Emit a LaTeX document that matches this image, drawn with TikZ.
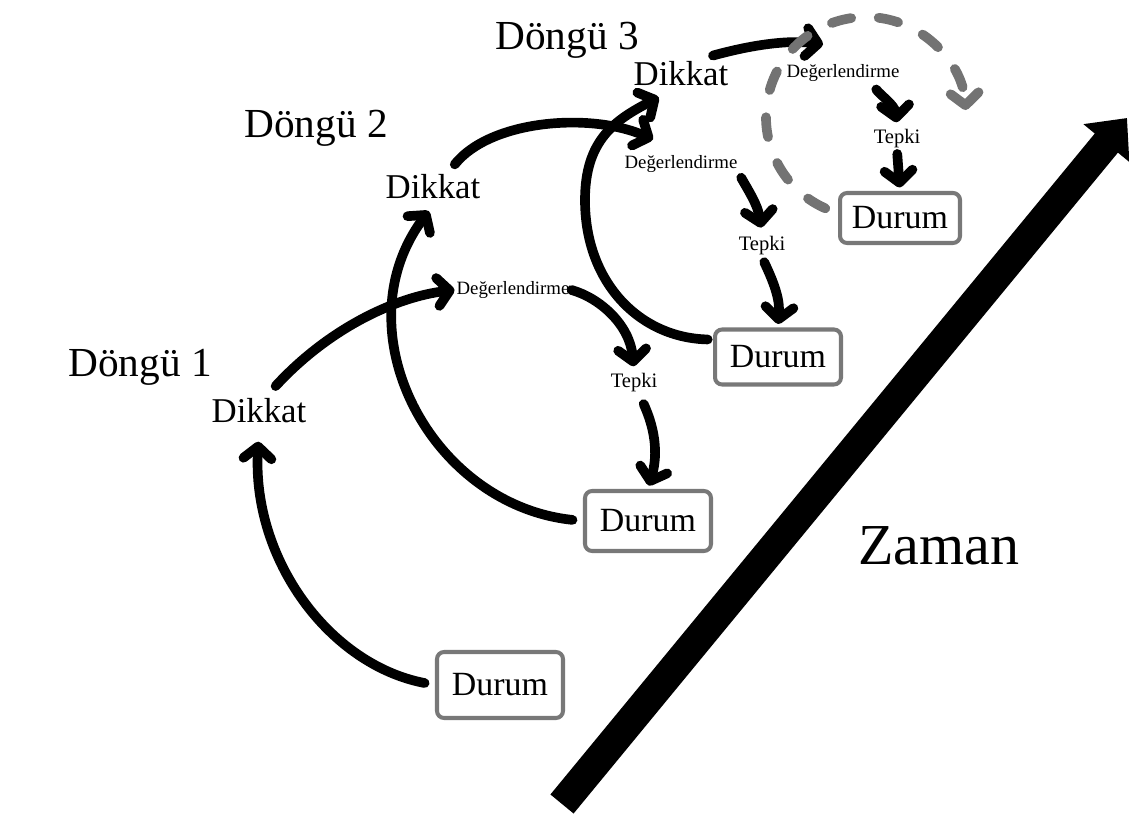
\documentclass[tikz,border=0pt]{standalone}
\usepackage{fontspec}
\setmainfont{Liberation Serif}
\usetikzlibrary{arrows.meta}
\definecolor{boxgray}{RGB}{120,120,120}
\definecolor{ringgray}{RGB}{115,115,115}

\begin{document}
\begin{tikzpicture}[x=0.02cm, y=-0.02cm,
  cyclabel/.style={font=\fontsize{23.5}{28}\selectfont},
  attn/.style={font=\fontsize{19.8}{24}\selectfont},
  appraise/.style={font=\fontsize{10.7}{13}\selectfont, inner sep=1pt},
  react/.style={font=\fontsize{11.7}{14}\selectfont, inner sep=1pt},
  durbox/.style={draw=boxgray, line width=2.3pt, rounded corners=4pt,
    font=\fontsize{19.3}{23}\selectfont, minimum width=2.52cm},
  flow/.style={line width=5.5pt, line cap=round,
    -{Straight Barb[round,length=2.4mm,width=5.6mm]}},
  ring/.style={flow, draw=ringgray, dash pattern=on 0.4cm off 0.55cm}]

\useasboundingbox (0,0) rectangle (1129,820);

% cycle 1
\path (140,367) node[cyclabel] (dongA) {Döngü 1};
\path (259,411) node[attn] (dikA) {Dikkat};
\path (513,290) node[appraise] (degA) {Değerlendirme};
\path (634,383) node[react] (tepA) {Tepki};
\path (500,685) node[durbox, minimum height=1.32cm] (durA) {Durum};

% cycle 2
\path (316,128) node[cyclabel] (dongB) {Döngü 2};
\path (433,187) node[attn] (dikB) {Dikkat};
\path (681,164) node[appraise] (degB) {Değerlendirme};
\path (762,246) node[react] (tepB) {Tepki};
\path (648,521) node[durbox, minimum height=1.2cm] (durB) {Durum};

% cycle 3
\path (567,40) node[cyclabel] (dongC) {Döngü 3};
\path (681,74) node[attn] (dikC) {Dikkat};
\path (843,73) node[appraise] (degC) {Değerlendirme};
\path (897,139) node[react] (tepC) {Tepki};
\path (778,357) node[durbox, minimum height=1.1cm] (durC) {Durum};
\path (900,218) node[durbox, minimum height=1.0cm, minimum width=2.4cm] (durD) {Durum};

% time axis
\path (939,546) node[font=\fontsize{33}{40}\selectfont] (zaman) {Zaman};
\coordinate (tbase) at (562,804);
\coordinate (ttip) at (1127,118);
\draw [line width=0.6cm, -{Triangle[length=0.65cm,width=1.15cm]}] (tbase) -- (ttip);

% cycle 1 arrows
\draw [flow, shorten <=6pt, shorten >=7pt] (durA.west) .. controls (330,665) and (252,560) .. (dikA.south);
\draw [flow, shorten <=5pt] (dikA.60) .. controls (328,329) and (395,297) .. (degA.west);
\draw [flow, shorten >=3pt] (degA.east) .. controls (600,298) and (630,325) .. (tepA.north);
\draw [flow, shorten <=6pt, shorten >=2pt] (tepA.-65) .. controls (660,440) and (655,465) .. (durB.north);

% cycle 2
\draw [flow, shorten <=6pt, shorten >=4pt] (durB.west) .. controls (430,505) and (340,330) .. (dikB.south);
\draw [flow, shorten <=3pt] (dikB.45) .. controls (490,120) and (590,112) .. ([shift={(-28,-14)}]degB.north);
\draw [flow, shorten <=2pt, shorten >=4pt] (degB.south east) .. controls (748,190) and (758,205) .. (tepB.north);
\draw [flow, shorten <=3pt, shorten >=2pt] (tepB.south) .. controls (775,285) and (780,300) .. (durC.north);

% cycle 3
\draw [flow, shorten <=3pt, shorten >=6pt] (durC.165) .. controls (640,338) and (585,283) .. (585,200)
  .. controls (585,140) and (615,120) .. (dikC.-125);
\draw [flow] (dikC.30) .. controls (755,44) and (790,40) .. ([shift={(-20,-18)}]degC.north);
\draw [flow, shorten <=4pt, shorten >=3pt] (degC.-20) .. controls (880,95) and (895,105) .. (tepC.north);
\draw [flow, shorten <=2pt, shorten >=2pt] (tepC.south) -- (durD.north);

% next cycle
\coordinate (ringc) at (866,117);
\draw [ring] ([shift={(114:100)}]ringc) arc[start angle=114, end angle=356, radius=100];
\end{tikzpicture}
\end{document}
